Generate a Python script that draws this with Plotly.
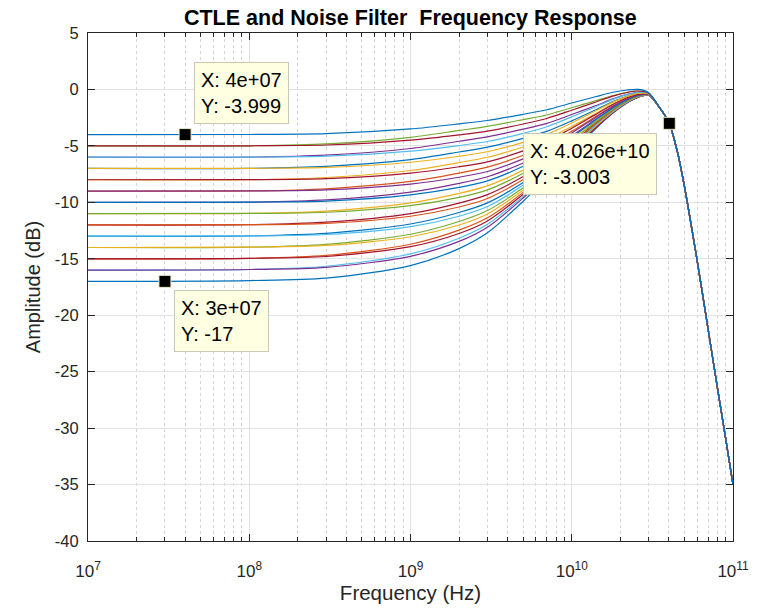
import math
import plotly.graph_objects as go

# ---------------- data ----------------
freq_hz = [1e7, 1e8, 3e8, 1e9, 2e9, 3e9, 5e9, 7e9, 1e10, 1.4e10, 1.8e10, 2.2e10, 2.6e10, 3e10]
tail_freq_hz = [3.5e10, 4e10, 4.5e10, 5e10, 6e10, 7e10, 8e10, 9e10, 1e11]
tail_db = [-1.6, -2.92, -5.4, -8.6, -15.2, -21.2, -26.4, -30.9, -35.0]

# one curve per DC level (dB)
dc_m4 = [-4.00, -3.99, -3.92, -3.50, -3.05, -2.75, -2.20, -1.80, -1.20, -0.65, -0.25, -0.05, 0.00, -0.30]
dc_m5 = [-5.00, -4.99, -4.92, -4.49, -4.02, -3.69, -3.06, -2.57, -1.84, -1.13, -0.59, -0.27, -0.14, -0.34]
dc_m6 = [-6.00, -5.99, -5.91, -5.47, -4.97, -4.61, -3.89, -3.30, -2.43, -1.55, -0.88, -0.46, -0.25, -0.38]
dc_m7 = [-7.00, -6.99, -6.91, -6.45, -5.92, -5.52, -4.69, -3.98, -2.97, -1.91, -1.12, -0.62, -0.34, -0.40]
dc_m8 = [-8.00, -7.99, -7.90, -7.42, -6.85, -6.41, -5.44, -4.61, -3.44, -2.23, -1.33, -0.74, -0.42, -0.43]
dc_m9 = [-9.00, -8.99, -8.90, -8.39, -7.78, -7.27, -6.15, -5.18, -3.86, -2.50, -1.50, -0.85, -0.48, -0.44]
dc_m10 = [-10.00, -9.98, -9.89, -9.34, -8.68, -8.10, -6.81, -5.70, -4.23, -2.72, -1.64, -0.93, -0.53, -0.46]
dc_m11 = [-11.00, -10.98, -10.88, -10.29, -9.56, -8.90, -7.42, -6.16, -4.54, -2.91, -1.75, -1.00, -0.57, -0.47]
dc_m12 = [-12.00, -11.98, -11.86, -11.23, -10.41, -9.66, -7.97, -6.56, -4.81, -3.06, -1.84, -1.05, -0.60, -0.48]
dc_m13 = [-13.00, -12.97, -12.85, -12.15, -11.23, -10.37, -8.47, -6.91, -5.03, -3.19, -1.92, -1.10, -0.62, -0.48]
dc_m14 = [-14.00, -13.97, -13.82, -13.05, -12.01, -11.03, -8.91, -7.21, -5.22, -3.29, -1.98, -1.13, -0.64, -0.49]
dc_m15 = [-15.00, -14.96, -14.80, -13.93, -12.76, -11.65, -9.29, -7.46, -5.37, -3.38, -2.03, -1.16, -0.66, -0.49]
dc_m16 = [-16.00, -15.95, -15.76, -14.78, -13.46, -12.20, -9.62, -7.67, -5.50, -3.45, -2.07, -1.18, -0.67, -0.50]
dc_m17 = [-17.00, -16.93, -16.72, -15.60, -14.10, -12.70, -9.90, -7.85, -5.60, -3.50, -2.10, -1.20, -0.68, -0.50]

# second curve sharing the same DC level (rises a little earlier)
dc_m5b = [-5.00, -4.99, -4.82, -4.24, -3.63, -3.27, -2.67, -2.26, -1.62, -1.01, -0.54, -0.25, -0.14, -0.34]
dc_m6b = [-6.00, -5.99, -5.81, -5.23, -4.59, -4.20, -3.52, -3.01, -2.22, -1.45, -0.84, -0.44, -0.25, -0.38]
dc_m7b = [-7.00, -6.99, -6.81, -6.21, -5.54, -5.11, -4.33, -3.71, -2.78, -1.82, -1.08, -0.61, -0.34, -0.40]
dc_m8b = [-8.00, -7.99, -7.80, -7.18, -6.48, -6.01, -5.10, -4.36, -3.28, -2.15, -1.30, -0.73, -0.42, -0.43]
dc_m9b = [-9.00, -8.99, -8.80, -8.15, -7.41, -6.88, -5.83, -4.95, -3.71, -2.43, -1.47, -0.84, -0.48, -0.44]
dc_m10b = [-10.00, -9.98, -9.79, -9.10, -8.32, -7.73, -6.51, -5.49, -4.10, -2.67, -1.62, -0.92, -0.53, -0.46]
dc_m11b = [-11.00, -10.98, -10.78, -10.05, -9.21, -8.54, -7.15, -5.98, -4.43, -2.86, -1.73, -0.99, -0.57, -0.47]
dc_m12b = [-12.00, -11.98, -11.76, -11.00, -10.07, -9.32, -7.72, -6.40, -4.72, -3.02, -1.83, -1.05, -0.60, -0.48]
dc_m13b = [-13.00, -12.97, -12.75, -11.92, -10.90, -10.05, -8.25, -6.77, -4.95, -3.16, -1.91, -1.10, -0.62, -0.48]
dc_m14b = [-14.00, -13.97, -13.72, -12.83, -11.70, -10.73, -8.71, -7.09, -5.15, -3.27, -1.97, -1.13, -0.64, -0.49]
dc_m15b = [-15.00, -14.96, -14.70, -13.71, -12.46, -11.37, -9.12, -7.36, -5.32, -3.36, -2.02, -1.16, -0.66, -0.49]
dc_m16b = [-16.00, -15.95, -15.66, -14.57, -13.18, -11.95, -9.47, -7.59, -5.45, -3.43, -2.06, -1.18, -0.67, -0.50]

datatip_x = [4e7, 3e7, 4.026e10]
datatip_y = [-3.999, -17, -3.003]
datatip_labels = ["X: 4e+07<br>Y: -3.999", "X: 3e+07<br>Y: -17", "X: 4.026e+10<br>Y: -3.003"]

x_tick_vals = [1e7, 1e8, 1e9, 1e10, 1e11]
x_tick_text = ["10<sup>7</sup>", "10<sup>8</sup>", "10<sup>9</sup>", "10<sup>10</sup>", "10<sup>11</sup>"]
y_tick_vals = [5, 0, -5, -10, -15, -20, -25, -30, -35, -40]
y_tick_text = ["5", "0", "-5", "-10", "-15", "-20", "-25", "-30", "-35", "-40"]

# ---------------- styling ----------------
BLUE, ORANGE, YELLOW, PURPLE = "#0072BD", "#D95319", "#EDB120", "#7E2F8E"
GREEN, CYAN, RED = "#77AC30", "#4DBEEE", "#A2142F"
FONT = "Liberation Sans, Arial, Helvetica, sans-serif"
AX = "#262626"

second_curves = [
    (dc_m5b, GREEN), (dc_m6b, PURPLE), (dc_m7b, BLUE), (dc_m8b, YELLOW),
    (dc_m9b, ORANGE), (dc_m10b, PURPLE), (dc_m11b, YELLOW), (dc_m12b, RED),
    (dc_m13b, BLUE), (dc_m14b, GREEN), (dc_m15b, ORANGE), (dc_m16b, CYAN),
]
main_curves = [
    (dc_m17, BLUE), (dc_m16, PURPLE), (dc_m15, RED), (dc_m14, YELLOW),
    (dc_m13, CYAN), (dc_m12, ORANGE), (dc_m11, GREEN), (dc_m10, BLUE),
    (dc_m9, PURPLE), (dc_m8, RED), (dc_m7, YELLOW), (dc_m6, CYAN),
    (dc_m5, RED), (dc_m4, BLUE),
]

fig = go.Figure()
for vals, col in second_curves + main_curves:
    fig.add_trace(go.Scatter(
        x=freq_hz + tail_freq_hz, y=vals + tail_db, mode="lines",
        line=dict(color=col, width=1.2, shape="spline", smoothing=0.8),
        showlegend=False, hoverinfo="skip"))

fig.add_trace(go.Scatter(
    x=datatip_x, y=datatip_y, mode="markers",
    marker=dict(symbol="square", size=12, color="black",
                line=dict(color="#E8E8C8", width=1)),
    showlegend=False, hoverinfo="skip"))

anchor = [("left", "bottom", 9, 11), ("left", "top", 9, -9), ("right", "top", -12, -10)]
for (xv, yv, txt, (xa, ya, xs, ys)) in zip(datatip_x, datatip_y, datatip_labels, anchor):
    fig.add_annotation(
        x=math.log10(xv), y=yv, xref="x", yref="y", text=txt, showarrow=False,
        xanchor=xa, yanchor=ya, xshift=xs, yshift=ys, align="left",
        font=dict(family=FONT, size=20, color="black"),
        bgcolor="#FFFFE1", bordercolor="#C9C9B5", borderwidth=1, borderpad=6)

minor_x = [m * 10 ** e for e in range(7, 11) for m in range(2, 10)]

fig.update_layout(
    width=762, height=610, autosize=False,
    margin=dict(l=88, r=29, t=33, b=69),
    paper_bgcolor="white", plot_bgcolor="white",
    title=dict(text="CTLE and Noise Filter\u00a0 Frequency Response",
               x=0.5385, xanchor="center", y=1 - 17 / 610, yanchor="middle",
               yref="container", font=dict(family=FONT, size=21.5, color="black", weight="bold")),
    font=dict(family=FONT, color=AX),
)
fig.update_xaxes(
    type="log", range=[7, 11], tickvals=x_tick_vals, ticktext=x_tick_text,
    tickfont=dict(family=FONT, size=17, color=AX), ticklabelstandoff=15,
    ticks="inside", ticklen=7, tickcolor=AX, tickwidth=1, automargin=False,
    showline=True, linecolor=AX, linewidth=1, mirror="ticks",
    showgrid=True, gridcolor="#E2E2E2", gridwidth=1, zeroline=False,
    minor=dict(tickvals=minor_x, ticks="inside", ticklen=4, tickcolor=AX,
               showgrid=True, gridcolor="#D5D5D5", griddash="dot", gridwidth=1),
    title=dict(text="Frequency (Hz)", font=dict(family=FONT, size=20.5, color=AX), standoff=5),
)
fig.update_yaxes(
    range=[-40, 5], tickvals=y_tick_vals, ticktext=y_tick_text,
    tickfont=dict(family=FONT, size=16.5, color=AX), ticklabelstandoff=5,
    ticks="inside", ticklen=7, tickcolor=AX, tickwidth=1, automargin=False,
    showline=True, linecolor=AX, linewidth=1, mirror="ticks",
    showgrid=True, gridcolor="#E2E2E2", gridwidth=1, zeroline=False,
    title=dict(text="Amplitude (dB)", font=dict(family=FONT, size=20, color=AX), standoff=8),
)

fig.write_html("out.html")
